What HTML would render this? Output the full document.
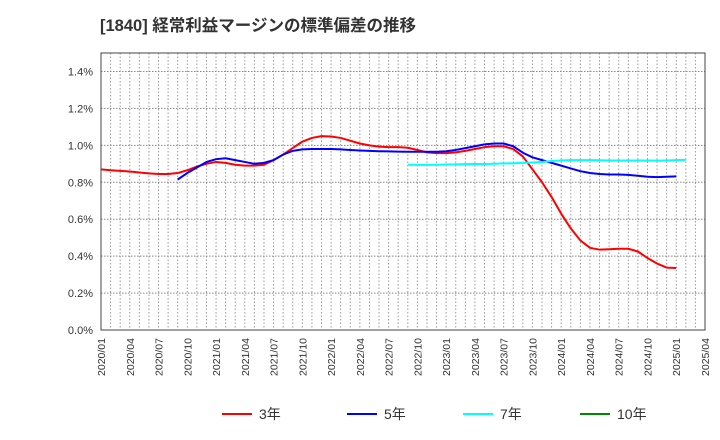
<!DOCTYPE html>
<html><head><meta charset="utf-8"><style>
body{margin:0;background:#fff;}
svg{display:block;font-family:"Liberation Sans","Noto Sans CJK JP",sans-serif;}
</style></head><body>
<svg id="c" width="720" height="440" xmlns="http://www.w3.org/2000/svg">
<text x="100" y="31" font-size="16.5" font-weight="bold" fill="#333">[1840]  経常利益マージンの標準偏差の推移</text>
<g id="grid"></g><g id="axes"></g><g id="series"></g><g id="legend"></g>
</svg>
<script>
const yTicks=[0,0.2,0.4,0.6,0.8,1.0,1.2,1.4];
const xTickLabels=["2020/01","2020/04","2020/07","2020/10","2021/01","2021/04","2021/07","2021/10","2022/01","2022/04","2022/07","2022/10","2023/01","2023/04","2023/07","2023/10","2024/01","2024/04","2024/07","2024/10","2025/01","2025/04"];
// monthly values starting at given month index (0 = 2020/01)
const s3Start=0;
const s3=[0.87,0.865,0.862,0.858,0.853,0.848,0.845,0.845,0.85,0.865,0.885,0.9,0.91,0.905,0.895,0.89,0.89,0.895,0.92,0.95,0.985,1.02,1.04,1.05,1.048,1.04,1.025,1.01,1.0,0.993,0.99,0.99,0.987,0.975,0.962,0.958,0.958,0.962,0.97,0.98,0.99,0.995,0.995,0.98,0.94,0.87,0.80,0.72,0.63,0.55,0.485,0.445,0.435,0.437,0.44,0.44,0.425,0.39,0.36,0.338,0.336];
const s5Start=8;
const s5=[0.815,0.85,0.88,0.91,0.925,0.93,0.92,0.91,0.90,0.905,0.92,0.95,0.97,0.978,0.98,0.98,0.98,0.978,0.975,0.972,0.97,0.968,0.967,0.966,0.965,0.965,0.965,0.965,0.968,0.975,0.985,0.995,1.005,1.01,1.01,0.995,0.96,0.935,0.92,0.905,0.89,0.875,0.86,0.85,0.845,0.842,0.842,0.84,0.835,0.83,0.828,0.83,0.832];
const s7Start=32;
const s7=[0.895,0.894,0.894,0.895,0.896,0.897,0.898,0.899,0.899,0.9,0.902,0.903,0.905,0.907,0.91,0.915,0.918,0.92,0.92,0.92,0.919,0.918,0.918,0.918,0.918,0.918,0.917,0.918,0.92,0.921];
const L=101,R=705,T=53,B=330;
const xs=m=>L+(R-L)*m/63, ys=v=>B-(B-T)*v/1.5;
const NS="http://www.w3.org/2000/svg";
function mk(t,a,p){const e=document.createElementNS(NS,t);for(const k in a)e.setAttribute(k,a[k]);p.appendChild(e);return e;}
const grid=document.getElementById('grid'),axes=document.getElementById('axes'),ser=document.getElementById('series'),leg=document.getElementById('legend');
for(let m=1;m<63;m++){const l=mk('line',{x1:xs(m),x2:xs(m),y1:T,y2:B,stroke:'#999','stroke-dasharray':'1.5,2','stroke-width':1},grid);

}
yTicks.forEach(v=>{const l=mk('line',{x1:L,x2:R,y1:ys(v),y2:ys(v),stroke:'#888','stroke-dasharray':'1.5,1.5','stroke-width':1},grid);


const t=mk('text',{x:L-8,y:ys(v)+4,'text-anchor':'end','font-size':11,fill:'#333'},axes);t.textContent=v.toFixed(1)+'%';

});
xTickLabels.forEach((s,i)=>{const x=xs(i*3);const t=mk('text',{transform:`translate(${x+4},${B+8}) rotate(-90)`,'text-anchor':'end','font-size':10.5,fill:'#333'},axes);t.textContent=s;

});
const fr=mk('rect',{x:L,y:T,width:R-L,height:B-T,fill:'none',stroke:'#444','stroke-width':1},axes);


function line(arr,st,col,name){const p=mk('polyline',{points:arr.map((v,i)=>xs(st+i)+','+ys(v)).join(' '),fill:'none',stroke:col,'stroke-width':2,'stroke-linejoin':'round'},ser);

}
line(s3,s3Start,'#f00','series-3y');line(s5,s5Start,'#00f','series-5y');line(s7,s7Start,'#0ff','series-7y');
[['3年','#f00',222],['5年','#00f',347],['7年','#0ff',463],['10年','#080',580]].forEach(([n,c,x])=>{
const g=mk('g',{},leg);


mk('line',{x1:x,x2:x+30,y1:414,y2:414,stroke:c,'stroke-width':2},g);
const t=mk('text',{x:x+37,y:419,'font-size':14,fill:'#333'},g);t.textContent=n;});
</script>
</body></html>
